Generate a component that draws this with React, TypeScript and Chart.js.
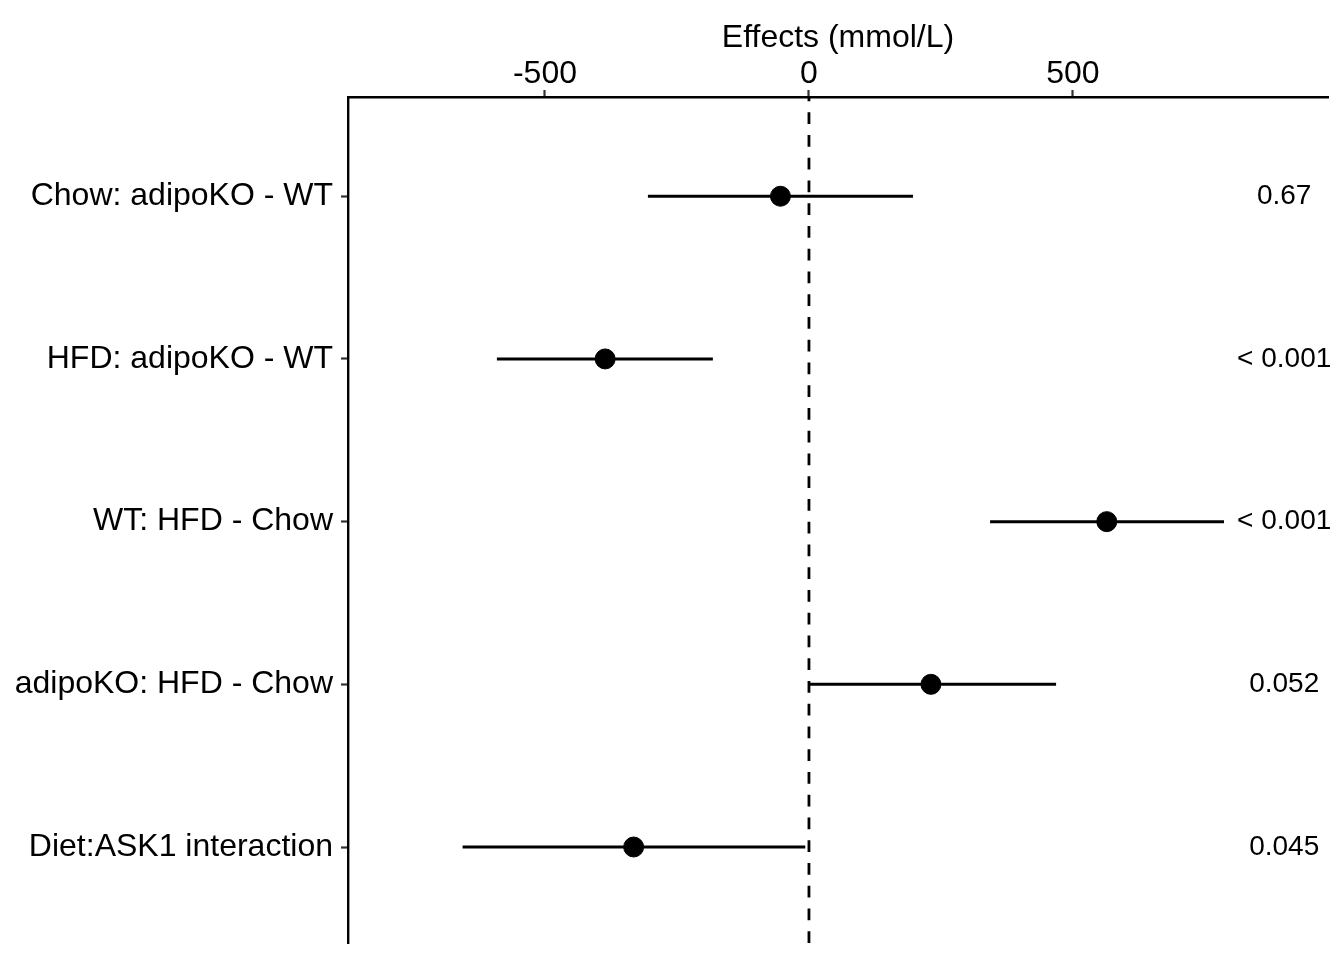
import { useEffect, useRef } from "react";
import { Chart, registerables } from "chart.js";

Chart.register(...registerables);

const rowLabels = [
  "Chow: adipoKO - WT",
  "HFD: adipoKO - WT",
  "WT: HFD - Chow",
  "adipoKO: HFD - Chow",
  "Diet:ASK1 interaction",
];
const estimates = [-54, -386, 564, 231, -332];
const lowerCI = [-305, -591, 343, 0, -656];
const upperCI = [197, -182, 786, 468, -7];
const pValues = ["0.67", "< 0.001", "< 0.001", "0.052", "0.045"];
const xTicks = [-500, 0, 500];
const xTitle = "Effects (mmol/L)";
const pValueX = 900;
const xRange = [-873, 983];
const yRange = [0.39, 5.59];

const FONT = "'Liberation Sans', Arial, Helvetica, sans-serif";

const pValuePlugin = {
  id: "pValueText",
  afterDatasetsDraw(chart: any) {
    const { ctx, scales } = chart;
    const xs = scales.x;
    const ys = scales.y;
    ctx.save();
    ctx.font = `28px ${FONT}`;
    ctx.fillStyle = "#000";
    ctx.textAlign = "center";
    ctx.textBaseline = "middle";
    pValues.forEach((p, i) => {
      ctx.fillText(p, xs.getPixelForValue(pValueX), ys.getPixelForValue(i + 1));
    });
    ctx.restore();
  },
};

export default function App() {
  const canvasRef = useRef<HTMLCanvasElement | null>(null);

  useEffect(() => {
    if (!canvasRef.current) return;
    const ciDatasets = rowLabels.map((_, i) => ({
      type: "line" as const,
      data: [
        { x: lowerCI[i], y: i + 1 },
        { x: upperCI[i], y: i + 1 },
      ],
      borderColor: "#000",
      borderWidth: 3,
      pointRadius: 0,
      showLine: true,
      fill: false,
    }));
    const zeroLine = {
      type: "line" as const,
      data: [
        { x: 0, y: yRange[1] },
        { x: 0, y: yRange[0] },
      ],
      borderColor: "#000",
      borderWidth: 2.8,
      borderDash: [11.7, 11.05],
      pointRadius: 0,
      showLine: true,
      fill: false,
    };
    const points = {
      type: "scatter" as const,
      data: estimates.map((e, i) => ({ x: e, y: i + 1 })),
      pointRadius: 10,
      pointBackgroundColor: "#000",
      pointBorderColor: "#000",
      pointBorderWidth: 1,
      showLine: false,
    };

    const chart = new Chart(canvasRef.current, {
      type: "scatter",
      data: { datasets: [points, ...ciDatasets, zeroLine] as any },
      options: {
        animation: false,
        responsive: false,
        devicePixelRatio: 1,
        layout: { padding: { left: 0, right: 16, top: 0, bottom: 17 } },
        plugins: {
          legend: { display: false },
          tooltip: { enabled: false },
        },
        scales: {
          x: {
            type: "linear",
            position: "top",
            min: xRange[0],
            max: xRange[1],
            afterBuildTicks: (s: any) => {
              s.ticks = xTicks.map((v) => ({ value: v }));
            },
            afterFit: (s: any) => {
              s.height = 97;
              s.paddingLeft = 0;
              s.paddingRight = 0;
            },
            ticks: {
              font: { family: FONT, size: 32, lineHeight: 1 },
              color: "#000",
              padding: 0,
              maxRotation: 0,
              callback: (v: any) => String(v),
            },
            grid: {
              display: true,
              drawOnChartArea: false,
              drawTicks: true,
              tickLength: 7,
              tickWidth: 2.2,
              tickColor: "#333",
            },
            border: { display: true, color: "#000", width: 2.4 },
            title: {
              display: true,
              text: xTitle,
              color: "#000",
              font: { family: FONT, size: 32 },
              padding: { top: 19, bottom: 0 },
            },
          },
          y: {
            type: "linear",
            reverse: true,
            min: yRange[0],
            max: yRange[1],
            afterBuildTicks: (s: any) => {
              s.ticks = rowLabels.map((_, i) => ({ value: i + 1 }));
            },
            afterFit: (s: any) => {
              s.width = 348;
              s.paddingTop = 0;
              s.paddingBottom = 0;
            },
            ticks: {
              font: { family: FONT, size: 32 },
              color: "#000",
              padding: 8,
              callback: (v: any) => rowLabels[Math.round(Number(v)) - 1] ?? "",
            },
            grid: {
              display: true,
              drawOnChartArea: false,
              drawTicks: true,
              tickLength: 7,
              tickWidth: 2.2,
              tickColor: "#333",
            },
            border: { display: true, color: "#000", width: 2.4 },
          },
        },
      },
      plugins: [pValuePlugin],
    });
    return () => chart.destroy();
  }, []);

  return (
    <div style={{ position: "absolute", left: 0, top: 0, width: 1344, height: 960, background: "#fff" }}>
      <canvas ref={canvasRef} width={1344} height={960} style={{ width: 1344, height: 960 }} />
    </div>
  );
}
